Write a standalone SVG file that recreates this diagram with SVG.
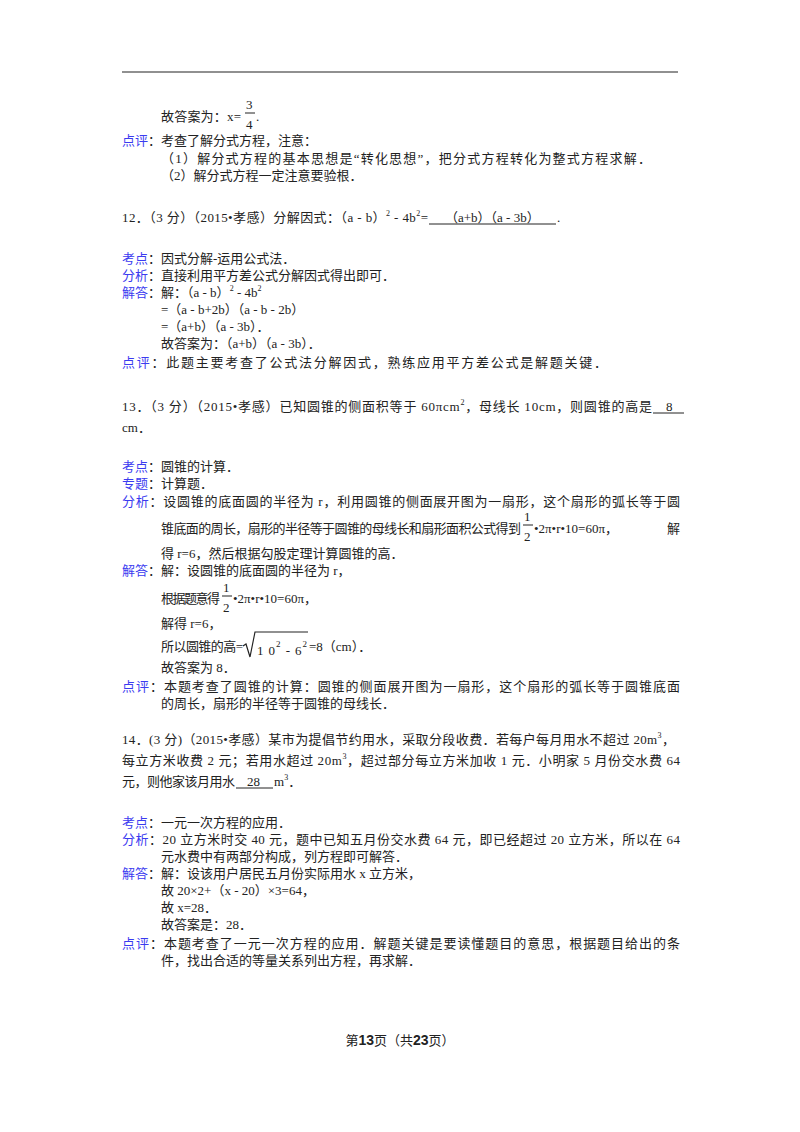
<svg xmlns="http://www.w3.org/2000/svg" width="800" height="1132" viewBox="0 0 800 1132">
<style>
text{font-family:"Liberation Serif","Noto Sans CJK SC",serif;font-size:13px;fill:#222}
.l{fill:#3b3bf0}
.s{font-size:8px}
.b{font-weight:bold}
</style>
<rect width="800" height="1132" fill="#fff"/>
<line x1="122" y1="72" x2="678" y2="72" stroke="#222" stroke-width="1.2"/>
<g id="q11">
<text x="161" y="121" textLength="80" lengthAdjust="spacing">故答案为：x=</text>
<text x="246" y="109" font-size="15">3</text>
<line x1="245" y1="113" x2="255" y2="113" stroke="#222"/>
<text x="246" y="129" font-size="15">4</text>
<text x="256" y="121">.</text>
<text x="122" y="145"><tspan class="l">点评</tspan>：考查了解分式方程，注意：</text>
<text x="161" y="163" textLength="490" lengthAdjust="spacing">（1）解分式方程的基本思想是“转化思想”，把分式方程转化为整式方程求解．</text>
<text x="161" y="180">（2）解分式方程一定注意要验根．</text>
</g>
<g id="q12">
<text x="122" y="222" textLength="306" lengthAdjust="spacing">12．（3 分）（2015•孝感）分解因式：（a - b）<tspan class="s" dy="-6">2</tspan><tspan dy="6"> - 4b</tspan><tspan class="s" dy="-6">2</tspan><tspan dy="6">=</tspan></text>
<text x="445" y="222">（a+b）（a - 3b）</text>
<line x1="429" y1="224" x2="556" y2="224" stroke="#222"/>
<text x="557" y="222">.</text>
<text x="122" y="263"><tspan class="l">考点</tspan>：因式分解-运用公式法．</text>
<text x="122" y="280"><tspan class="l">分析</tspan>：直接利用平方差公式分解因式得出即可．</text>
<text x="122" y="297"><tspan class="l">解答</tspan>：解：（a - b）<tspan class="s" dy="-6">2</tspan><tspan dy="6"> - 4b</tspan><tspan class="s" dy="-6">2</tspan></text>
<text x="161" y="314">=（a - b+2b）（a - b - 2b）</text>
<text x="161" y="331">=（a+b）（a - 3b）．</text>
<text x="161" y="348">故答案为：（a+b）（a - 3b）．</text>
<text x="122" y="367" textLength="485" lengthAdjust="spacing"><tspan class="l">点评</tspan>：此题主要考查了公式法分解因式，熟练应用平方差公式是解题关键．</text>
</g>
<g id="q13">
<text x="122" y="411" textLength="530" lengthAdjust="spacing">13．（3 分）（2015•孝感）已知圆锥的侧面积等于 60πcm<tspan class="s" dy="-6">2</tspan><tspan dy="6">，母线长 10cm，则圆锥的高是</tspan></text>
<text x="666" y="411">8</text>
<line x1="653" y1="413" x2="684" y2="413" stroke="#222"/>
<text x="122" y="432">cm．</text>
<text x="122" y="471"><tspan class="l">考点</tspan>：圆锥的计算．</text>
<text x="122" y="488"><tspan class="l">专题</tspan>：计算题．</text>
<text x="122" y="506" textLength="558" lengthAdjust="spacing"><tspan class="l">分析</tspan>：设圆锥的底面圆的半径为 r，利用圆锥的侧面展开图为一扇形，这个扇形的弧长等于圆</text>
<text x="161" y="533" textLength="360" lengthAdjust="spacing">锥底面的周长，扇形的半径等于圆锥的母线长和扇形面积公式得到</text>
<text x="524" y="521" font-size="15">1</text>
<line x1="523" y1="525" x2="533" y2="525" stroke="#222"/>
<text x="524" y="541" font-size="15">2</text>
<text x="534" y="533">•2π•r•10=60π，</text>
<text x="667" y="533">解</text>
<text x="161" y="558">得 r=6，然后根据勾股定理计算圆锥的高．</text>
<text x="122" y="575"><tspan class="l">解答</tspan>：解：设圆锥的底面圆的半径为 r，</text>
<text x="161" y="603" textLength="59" lengthAdjust="spacing">根据题意得</text>
<text x="223" y="592" font-size="15">1</text>
<line x1="222" y1="596" x2="232" y2="596" stroke="#222"/>
<text x="223" y="612" font-size="15">2</text>
<text x="233" y="603">•2π•r•10=60π，</text>
<text x="161" y="628">解得 r=6，</text>
<text x="161" y="651" textLength="82" lengthAdjust="spacing">所以圆锥的高=</text>
<path d="M243 646 L246 644 L250 657 L255 632 L308 632" fill="none" stroke="#222" stroke-width="1.2"/>
<text x="257" y="655" font-family="Liberation Sans" font-size="14" textLength="50" lengthAdjust="spacing">1 0<tspan font-size="9" dy="-8">2</tspan><tspan dy="8"> - 6</tspan><tspan font-size="9" dy="-8">2</tspan></text>
<text x="309" y="651">=8（cm）．</text>
<text x="161" y="672">故答案为 8．</text>
<text x="122" y="691" textLength="558" lengthAdjust="spacing"><tspan class="l">点评</tspan>：本题考查了圆锥的计算：圆锥的侧面展开图为一扇形，这个扇形的弧长等于圆锥底面</text>
<text x="161" y="708">的周长，扇形的半径等于圆锥的母线长．</text>
</g>
<g id="q14">
<text x="122" y="744" textLength="553" lengthAdjust="spacing">14．(3 分)（2015•孝感）某市为提倡节约用水，采取分段收费．若每户每月用水不超过 20m<tspan class="s" dy="-6">3</tspan><tspan dy="6">，</tspan></text>
<text x="122" y="765" textLength="558" lengthAdjust="spacing">每立方米收费 2 元；若用水超过 20m<tspan class="s" dy="-6">3</tspan><tspan dy="6">，超过部分每立方米加收 1 元．小明家 5 月份交水费 64</tspan></text>
<text x="122" y="786" textLength="113" lengthAdjust="spacing">元，则他家该月用水</text>
<text x="247" y="786">28</text>
<line x1="236" y1="788" x2="273" y2="788" stroke="#222"/>
<text x="274" y="786">m<tspan class="s" dy="-6">3</tspan><tspan dy="6">．</tspan></text>
<text x="122" y="827"><tspan class="l">考点</tspan>：一元一次方程的应用．</text>
<text x="122" y="844" textLength="558" lengthAdjust="spacing"><tspan class="l">分析</tspan>：20 立方米时交 40 元，题中已知五月份交水费 64 元，即已经超过 20 立方米，所以在 64</text>
<text x="161" y="861">元水费中有两部分构成，列方程即可解答．</text>
<text x="122" y="878"><tspan class="l">解答</tspan>：解：设该用户居民五月份实际用水 x 立方米，</text>
<text x="161" y="895">故 20×2+（x - 20）×3=64，</text>
<text x="161" y="912">故 x=28．</text>
<text x="161" y="929">故答案是：28．</text>
<text x="122" y="948" textLength="558" lengthAdjust="spacing"><tspan class="l">点评</tspan>：本题考查了一元一次方程的应用．解题关键是要读懂题目的意思，根据题目给出的条</text>
<text x="161" y="965">件，找出合适的等量关系列出方程，再求解．</text>
</g>
<text x="400" y="1045" text-anchor="middle" font-size="12">第<tspan class="b" font-size="14" font-family="Liberation Sans">13</tspan>页（共<tspan class="b" font-size="14" font-family="Liberation Sans">23</tspan>页）</text>
</svg>
